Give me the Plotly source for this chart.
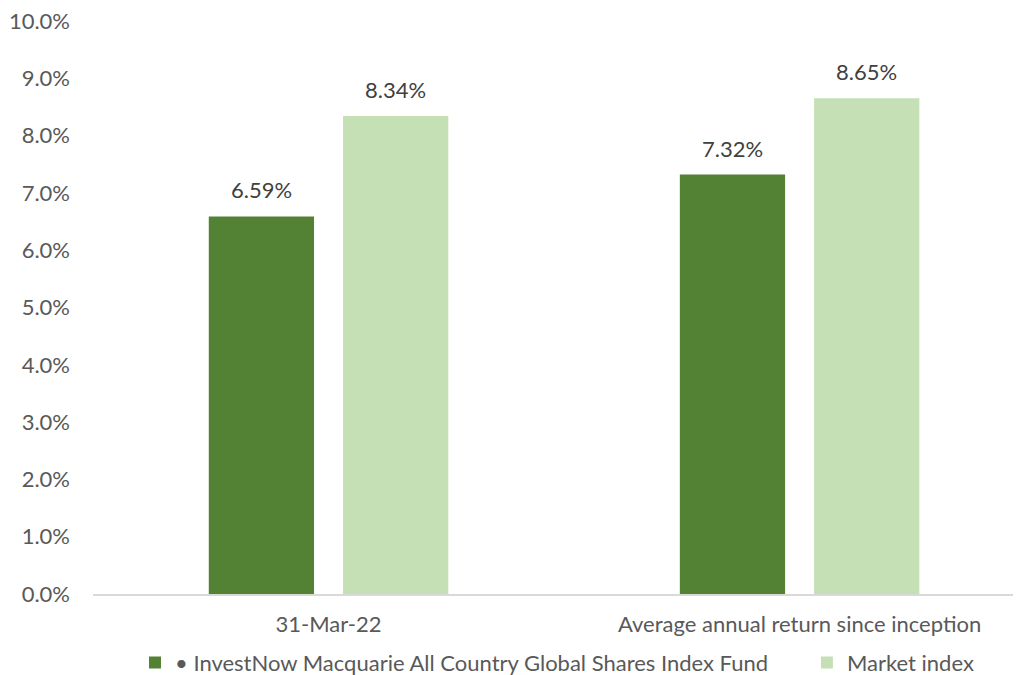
import plotly.graph_objects as go

categories = ["31-Mar-22", "Average annual return since inception"]
fund_name = "• InvestNow Macquarie All Country Global Shares Index Fund"
market_name = "Market index"
fund_values = [6.59, 7.32]
market_values = [8.34, 8.65]
y_ticks = [0, 1, 2, 3, 4, 5, 6, 7, 8, 9, 10]

FONT = "Lato, 'Open Sans', sans-serif"
GREY = "#595959"
SIZE = 22

fig = go.Figure()
fig.add_trace(go.Bar(
    x=categories, y=fund_values, name=fund_name + "\u00a0" * 6,
    marker=dict(color="#548235", line=dict(width=0)),
))
fig.add_trace(go.Bar(
    x=categories, y=market_values, name=market_name,
    marker=dict(color="#C5E0B4", line=dict(width=0)),
))

# data labels placed above each bar
for vals, xs in ((fund_values, -67), (market_values, 67)):
    for c, v in zip(categories, vals):
        fig.add_annotation(
            x=c, y=v, text=f"{v:.2f}%", showarrow=False,
            xshift=xs, yshift=11, yanchor="bottom",
            font=dict(family=FONT, size=SIZE, color="#404040"),
        )

# page body has an 8px default margin, so the figure is sized to fit the window
fig.update_layout(
    width=1013, height=667,
    margin=dict(l=85, r=0, t=13, b=81, autoexpand=False),
    paper_bgcolor="white", plot_bgcolor="white",
    barmode="group", bargap=0.43, bargroupgap=0.216,
    font=dict(family=FONT, size=SIZE, color=GREY),
    showlegend=True,
    legend=dict(orientation="h", x=0.5, xanchor="center", y=-0.12, yanchor="middle",
                font=dict(family=FONT, size=SIZE, color=GREY), itemwidth=30,
                traceorder="normal"),
)
fig.update_xaxes(
    type="category", range=[-0.5, 1.47], showgrid=False, automargin=False,
    showline=True, linecolor="#D9D9D9", linewidth=2, ticks="",
    tickfont=dict(family=FONT, size=SIZE, color=GREY), ticklabelstandoff=10,
)
fig.update_yaxes(
    range=[0, 10], tickvals=y_ticks, ticktext=[f"{v:.1f}%" for v in y_ticks],
    showgrid=False, zeroline=False, showline=False, ticks="", automargin=False,
    ticklabeloverflow="allow",
    tickfont=dict(family=FONT, size=SIZE, color=GREY), ticklabelstandoff=22,
)

fig.write_html("out.html")
